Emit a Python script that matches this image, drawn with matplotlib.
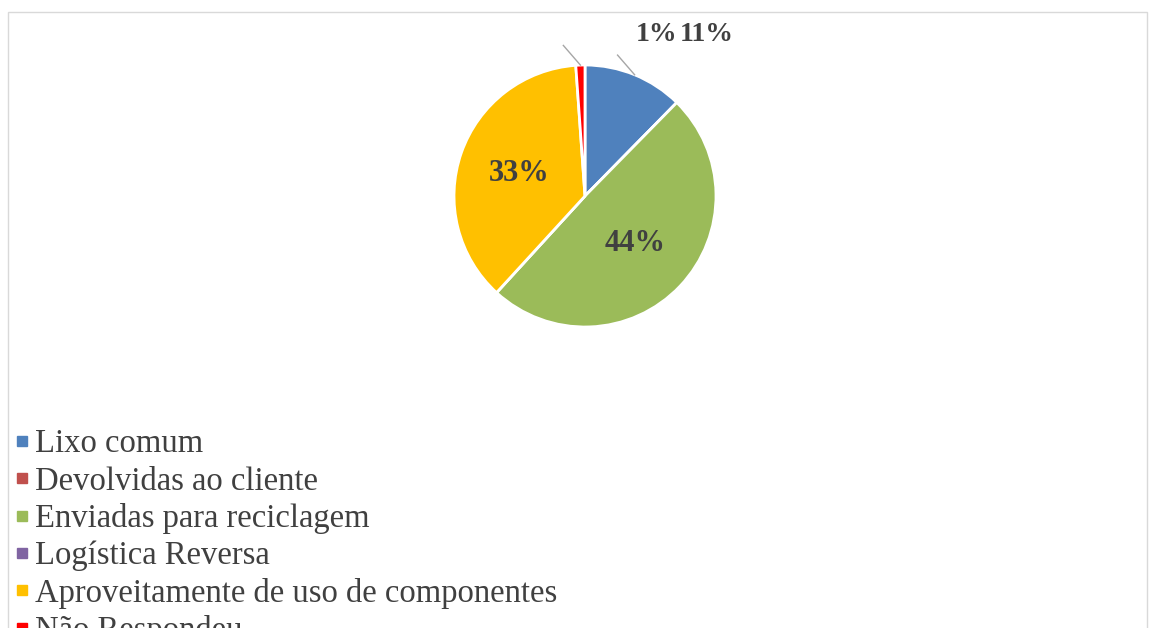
import numpy as np
import matplotlib
matplotlib.use("Agg")
import matplotlib.pyplot as plt
from matplotlib.lines import Line2D
from matplotlib.patches import Rectangle

# data (labels show the raw values)
categories = ["Lixo comum", "Devolvidas ao cliente", "Enviadas para reciclagem",
              "Logística Reversa", "Aproveitamente de uso de componentes", "Não Respondeu"]
values = [11, 0, 44, 0, 33, 1]
colors = ["#4F81BD", "#C0504D", "#9BBB59", "#8064A2", "#FFC000", "#FF0000"]

plt.rcParams["font.family"] = ["Liberation Serif", "DejaVu Serif"]

W, H = 1149, 628
fig = plt.figure(figsize=(W / 100, H / 100), dpi=100)

# faint chart border
fig.patches.append(Rectangle((8 / W, -0.1), 1139 / W, 1.1 - 12 / H, transform=fig.transFigure,
                             fill=False, edgecolor="#D9D9D9", lw=1))

cx, cy, r = 585, 196, 131
ax = fig.add_axes([(cx - r) / W, 1 - (cy + r) / H, 2 * r / W, 2 * r / H])
wedges, _ = ax.pie(values, colors=colors, startangle=90, counterclock=False,
                   wedgeprops=dict(edgecolor="white", linewidth=2))
ax.set_xlim(-1, 1)
ax.set_ylim(-1, 1)
ax.set_aspect("equal")
ax.axis("off")

total = sum(values)
start = 0.0
for v, w in zip(values, wedges):
    mid = np.radians(start + v / total * 360 / 2)  # clockwise from top
    start += v / total * 360
    if v == 0:
        continue
    if v >= 20:
        ax.text(0.53 * np.sin(mid), 0.53 * np.cos(mid), f"{v}%", ha="center", va="center",
                fontsize=22, fontweight="bold", color="#404040")
    else:
        x0, y0 = 1.0 * np.sin(mid), 1.0 * np.cos(mid)
        ax.plot([x0, x0 - 0.13], [y0, y0 + 0.15], color="#A6A6A6", lw=1, clip_on=False)

# outside labels (overlapping, as in the original)
ax.text(0.55, 1.23, f"{values[5]}%", ha="center", va="center", fontsize=20,
        fontweight="bold", color="#404040")
ax.text(0.93, 1.23, f"{values[0]}%", ha="center", va="center", fontsize=20,
        fontweight="bold", color="#404040")

handles = [Line2D([], [], marker="s", ls="none", color=c, markersize=7) for c in colors]
fig.legend(handles, categories, loc="upper left", bbox_to_anchor=(9 / W, 1 - 429 / H),
           frameon=False, fontsize=23.5, labelspacing=0.2, handletextpad=0.0,
           handlelength=0.8, borderpad=0, borderaxespad=0, labelcolor="#404040")

fig.savefig("out.png", dpi=100)
